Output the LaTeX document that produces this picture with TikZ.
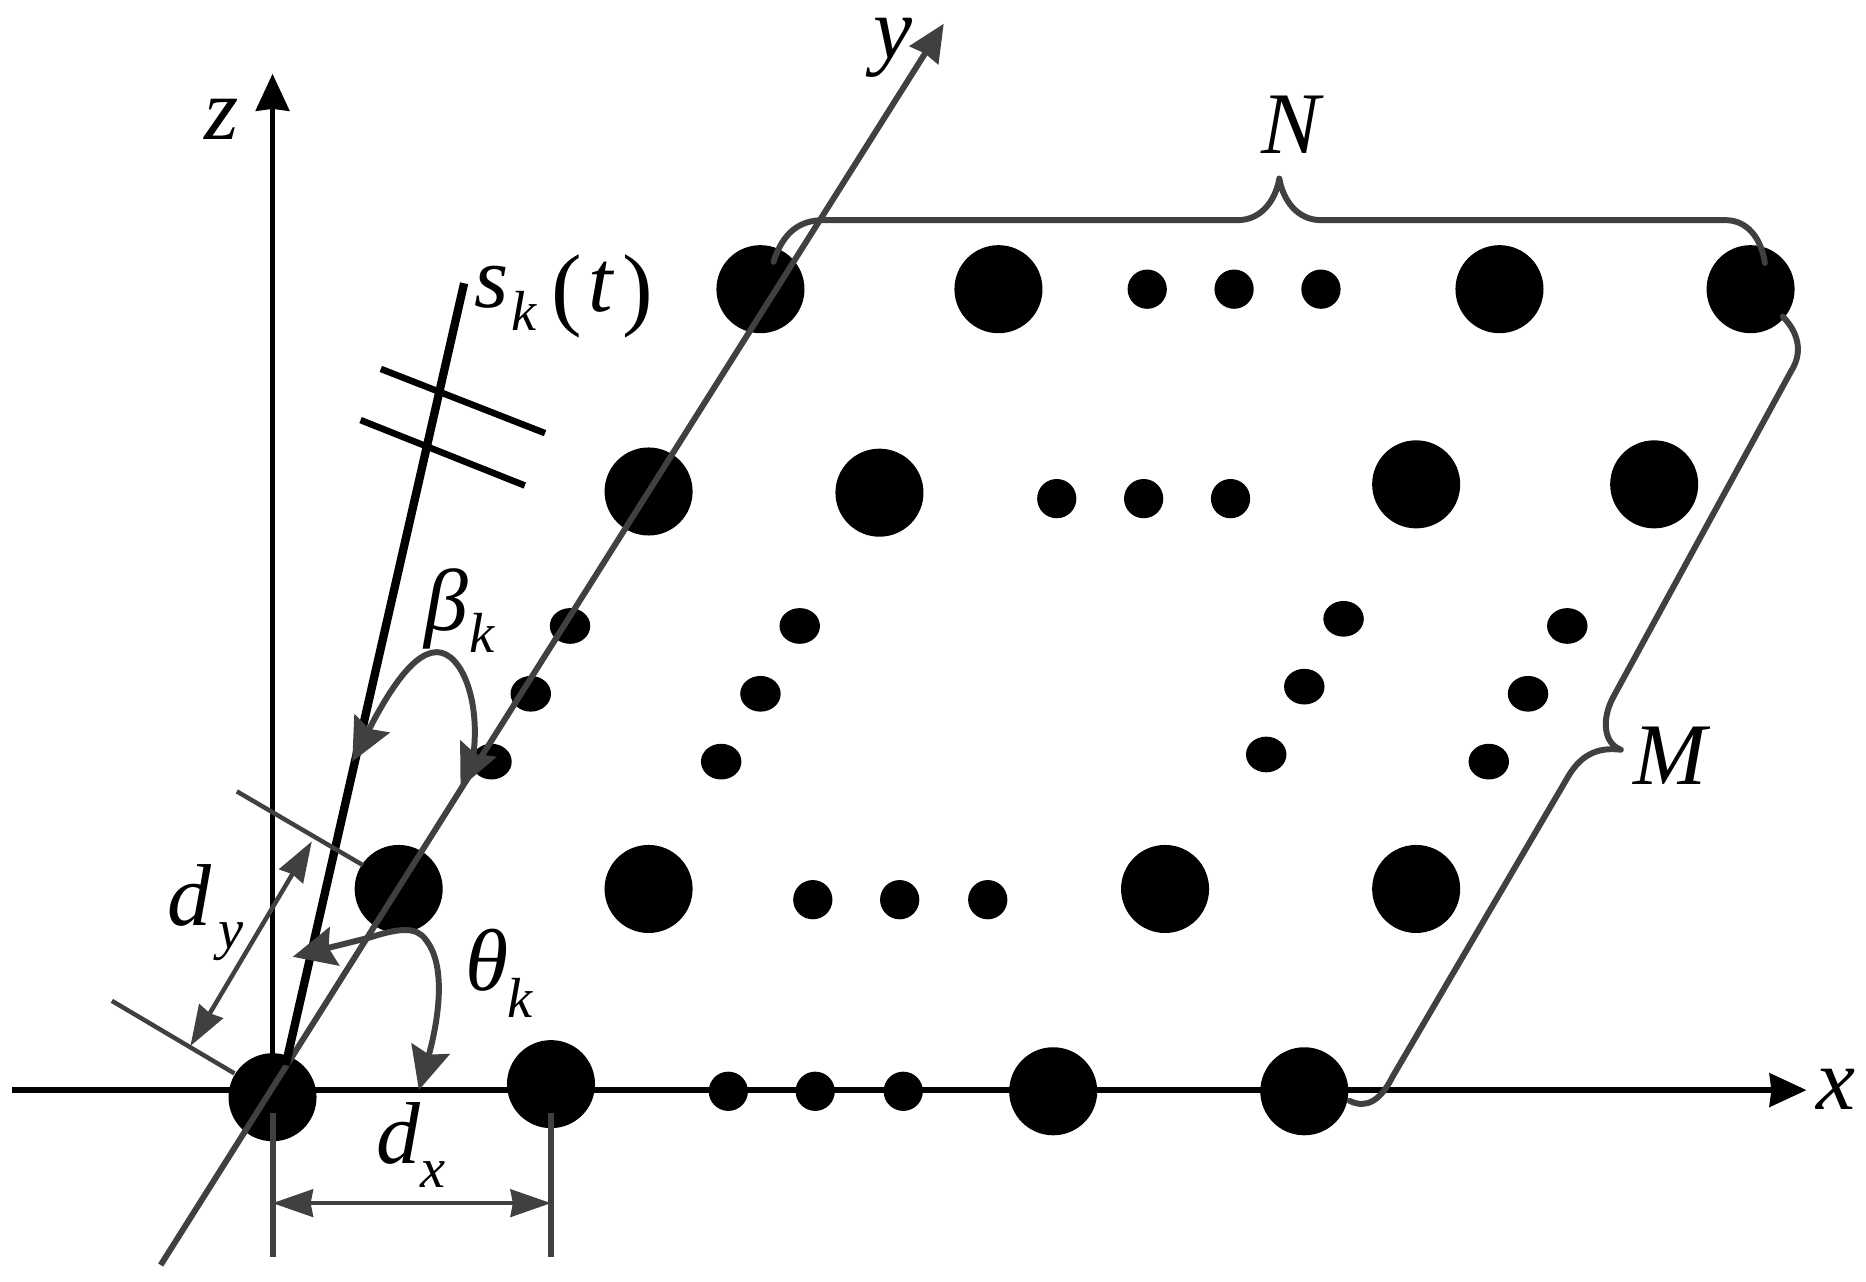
\documentclass[tikz,border=0pt]{standalone}
\usepackage{fontspec}
\setmainfont{Liberation Serif}
\usetikzlibrary{arrows.meta,shapes.geometric}
\definecolor{dimgray}{HTML}{404040}
\tikzset{
  big/.style={circle,fill=black,inner sep=0pt,minimum size=1.48cm},
  small/.style={circle,fill=black,inner sep=0pt,minimum size=0.66cm},
  oval/.style={ellipse,fill=black,inner sep=0pt,minimum width=0.68cm,minimum height=0.6cm},
  axis/.style={black,line width=0.09cm},
  gline/.style={draw=dimgray,line width=0.1cm,line join=round},
  thin dim/.style={draw=dimgray,line width=0.075cm},
  blackline/.style={black,line width=0.14cm},
  tip/.style={-{Stealth[length=0.62cm,width=0.56cm,inset=0.03cm]}},
  arr/.style={{Stealth[length=0.68cm,width=0.46cm,inset=0.04cm]}-{Stealth[length=0.68cm,width=0.46cm,inset=0.04cm]}},
  bigarr/.style={{Stealth[length=0.72cm,width=0.66cm,inset=0.1cm]}-{Stealth[length=0.72cm,width=0.66cm,inset=0.1cm]}},
  lab/.style={inner sep=0pt,font=\fontsize{42}{46}\selectfont\itshape},
  sub/.style={inner sep=0pt,font=\fontsize{27}{30}\selectfont\itshape},
  par/.style={inner sep=0pt,anchor=base,font=\fontsize{44}{46}\selectfont}
}
\begin{document}
\begin{tikzpicture}[x=0.02cm,y=-0.02cm]
\useasboundingbox (0,0) rectangle (1568,1077);
% x axis and z axis below the elements
\coordinate (xs) at (10,916); \coordinate (xe) at (1518,916);
\coordinate (zs) at (229,916); \coordinate (ze) at (229,62);
\draw[axis,tip] (xs) -- (xe);
\draw[axis,tip] (zs) -- (ze);
% array elements
\foreach \n/\x/\y in {a1/639/243,a2/839/243,a3/1260/243,a4/1471/243,
  b1/545/413,b2/739/414,b3/1190/407,b4/1390/407,
  c1/335/747,c2/545/747,c3/979/747,c4/1190/747,
  d1/229/922,d2/463/911,d3/885/917,d4/1096/917}
  \node[big] (\n) at (\x,\y) {};
\foreach \n/\x/\y in {e1/964/243,e2/1037/243,e3/1110/243,
  f1/888/419,f2/961/419,f3/1034/419,
  k1/683/756,k2/756/756,k3/830/756,
  l1/612/917,l2/685/917,l3/759/917}
  \node[small] (\n) at (\x,\y) {};
\foreach \n/\x/\y in {g1/479/526,g2/446/583,g3/413/640,
  h1/672/526,h2/639/583,h3/606/640,
  i1/1129/520,i2/1096/577,i3/1064/634,
  j1/1317/526,j2/1284/583,j3/1251/640}
  \node[oval] (\n) at (\x,\y) {};
% y axis
\coordinate (ys) at (135,1063); \coordinate (ye) at (793,20);
\draw[gline,tip] (ys) -- (ye);
% source ray and ticks
\coordinate (ss) at (240,895); \coordinate (se) at (390,238);
\draw[blackline] (ss) -- (se);
\coordinate (t1a) at (320,310); \coordinate (t1b) at (458,364);
\coordinate (t2a) at (303,353); \coordinate (t2b) at (441,408);
\draw[black,line width=0.11cm] (t1a) -- (t1b);
\draw[black,line width=0.11cm] (t2a) -- (t2b);
% d_x
\coordinate (dx1a) at (229,935); \coordinate (dx1b) at (229,1056);
\coordinate (dx2a) at (463,935); \coordinate (dx2b) at (463,1056);
\coordinate (dxl) at (229,1011); \coordinate (dxr) at (463,1011);
\draw[gline] (dx1a) -- (dx1b);
\draw[gline] (dx2a) -- (dx2b);
\draw[thin dim,arr] (dxl) -- (dxr);
% d_y
\coordinate (dy1a) at (199,665); \coordinate (dy1b) at (305,727);
\coordinate (dy2a) at (94,841); \coordinate (dy2b) at (197,902);
\coordinate (dyt) at (262,707); \coordinate (dyb) at (160,879);
\draw[thin dim] (dy1a) -- (dy1b);
\draw[thin dim] (dy2a) -- (dy2b);
\draw[thin dim,arr] (dyb) -- (dyt);
% beta arc
\coordinate (bl) at (296,640); \coordinate (br) at (387,662);
\draw[gline,bigarr]
  (bl) .. controls (322,590) and (345,548) .. (367,548)
       .. controls (388,548) and (405,590) .. (397,640) -- (br);
% theta arc
\coordinate (tl) at (246,804); \coordinate (tr) at (352,916);
\draw[gline,bigarr]
  (tl) -- (310,788) .. controls (335,780) and (350,778) .. (358,790)
       .. controls (378,815) and (365,870) .. (tr);
% braces
\coordinate (n1) at (650,220); \coordinate (n2) at (1075,150); \coordinate (n3) at (1483,221);
\draw[gline,line cap=round]
  (n1) .. controls (658,195) and (672,185) .. (692,185) -- (1040,185)
       .. controls (1060,185) and (1072,168) .. (n2)
       .. controls (1078,168) and (1090,185) .. (1110,185) -- (1450,185)
       .. controls (1468,185) and (1480,200) .. (n3);
\coordinate (m1) at (1498,266); \coordinate (m2) at (1362,630); \coordinate (m3) at (1134,925);
\draw[gline,line cap=round]
  (m1) .. controls (1510,278) and (1516,295) .. (1505,312) -- (1356,585)
       .. controls (1345,605) and (1348,625) .. (m2)
       .. controls (1345,628) and (1330,632) .. (1318,652) -- (1170,905)
       .. controls (1160,925) and (1148,932) .. (m3);
% labels
\node[lab] (lz) at (186,100) {z};
\node[lab] (ly) at (750,40) {y};
\node[lab] (lx) at (1543,915) {x};
\node[lab] (lN) at (1085,105) {N};
\node[lab] (lM) at (1403,635) {M};
\node[lab,anchor=base] (ls) at (413,258) {s};
\node[sub,anchor=base] (lsk) at (440,278) {k};
\node[par] (lp1) at (476,268) {(};
\node[lab,anchor=base] (lt1) at (505,262) {t};
\node[par] (lp2) at (536,268) {)};
\node[lab,anchor=base] (lb) at (375,530) {β};
\node[sub,anchor=base] (lbk) at (405,548) {k};
\node[lab,anchor=base] (lt) at (409,832) {θ};
\node[sub,anchor=base] (ltk) at (437,855) {k};
\node[lab,anchor=base] (ld) at (159,778) {d};
\node[sub,anchor=base] (ldy) at (194,797) {y};
\node[lab,anchor=base] (le) at (335,978) {d};
\node[sub,anchor=base] (lex) at (364,998) {x};
\end{tikzpicture}
\end{document}
